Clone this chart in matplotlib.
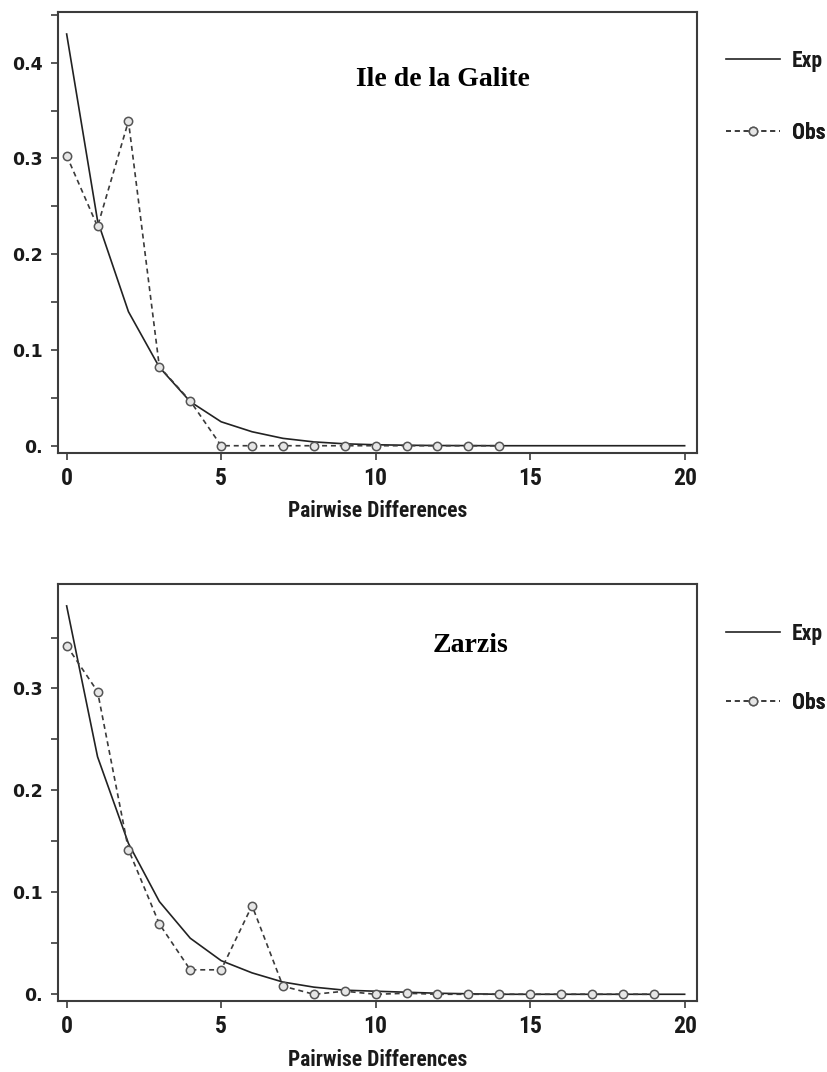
import matplotlib
matplotlib.use("Agg")
import matplotlib.pyplot as plt
from matplotlib import font_manager as fm
from matplotlib.ticker import FixedLocator, FixedFormatter

# ---------------- data ----------------
x_exp = list(range(0, 21))
galite_exp = [0.430, 0.235, 0.140, 0.082, 0.046, 0.025, 0.0146, 0.0077, 0.004, 0.002,
              0.001, 0.0005, 0.0002, 0.0001, 0, 0, 0, 0, 0, 0, 0]
galite_obs_x = list(range(0, 15))
galite_obs = [0.303, 0.229, 0.339, 0.0825, 0.0467, 0, 0, 0, 0, 0, 0, 0, 0, 0, 0]

zarzis_exp = [0.381, 0.233, 0.148, 0.091, 0.055, 0.033, 0.021, 0.012, 0.007, 0.004,
              0.003, 0.002, 0.001, 0.0005, 0, 0, 0, 0, 0, 0, 0]
zarzis_obs_x = list(range(0, 20))
zarzis_obs = [0.342, 0.297, 0.142, 0.069, 0.024, 0.024, 0.087, 0.008, 0.0, 0.003,
              0.0, 0.001, 0, 0, 0, 0, 0, 0, 0, 0]

x_ticks = [0, 5, 10, 15, 20]
x_ticklabels = ["0", "5", "10", "15", "20"]
galite_yticks = [0.0, 0.1, 0.2, 0.3, 0.4]
galite_yticklabels = ["0.", "0.1", "0.2", "0.3", "0.4"]
galite_yminor = [0.05, 0.15, 0.25, 0.35, 0.45]
zarzis_yticks = [0.0, 0.1, 0.2, 0.3]
zarzis_yticklabels = ["0.", "0.1", "0.2", "0.3"]
zarzis_yminor = [0.05, 0.15, 0.25, 0.35]
titles = ["Ile de la Galite", "Zarzis"]
xlabel = "Pairwise Differences"
legend_labels = ["Exp", "Obs"]


def has_font(name):
    try:
        path = fm.findfont(fm.FontProperties(family=name), fallback_to_default=False)
        return bool(path)
    except Exception:
        return False


NARROW = "DejaVu Sans"
for cand in ["Roboto Condensed", "PT Sans Narrow", "Archivo Narrow",
             "Liberation Sans Narrow", "Arimo"]:
    if has_font(cand):
        NARROW = cand
        break
SERIF = "Liberation Serif"

W, H = 827, 1072
fig = plt.figure(figsize=(W / 100, H / 100), dpi=100)


def px_rect(l, t, r, b):
    return [l / W, 1 - b / H, (r - l) / W, (b - t) / H]


SPINE = "#3c3c3c"
TXT = "#1a1a1a"

panels = [
    dict(rect=px_rect(58, 12, 697, 453), ylim=(-0.0076, 0.453), exp=galite_exp,
         ox=galite_obs_x, oy=galite_obs, yt=galite_yticks, ytl=galite_yticklabels,
         ym=galite_yminor, title=titles[0], tpos=(443, 80), leg=(726, 61, 133),
         labelpad=7),
    dict(rect=px_rect(58, 584, 697, 1001), ylim=(-0.0066, 0.4025), exp=zarzis_exp,
         ox=zarzis_obs_x, oy=zarzis_obs, yt=zarzis_yticks, ytl=zarzis_yticklabels,
         ym=zarzis_yminor, title=titles[1], tpos=(471, 646), leg=(726, 634, 703),
         labelpad=8),
]

obs_style = dict(color="#3a3a3a", lw=1.2, ls=(0, (3, 2.3)), marker="o", ms=6,
                 mfc="#e6e6e6", mec="#555555", mew=1.1)
exp_style = dict(color="#222222", lw=1.2)

for p in panels:
    ax = fig.add_axes(p["rect"])
    ax.plot(x_exp, p["exp"], solid_joinstyle="round", **exp_style)
    ax.plot(p["ox"], p["oy"], **obs_style)
    ax.set_xlim(-0.28, 20.4)
    ax.set_ylim(*p["ylim"])
    for s in ax.spines.values():
        s.set_color(SPINE)
        s.set_linewidth(1.5)
    ax.xaxis.set_major_locator(FixedLocator(x_ticks))
    ax.xaxis.set_major_formatter(FixedFormatter(x_ticklabels))
    ax.yaxis.set_major_locator(FixedLocator(p["yt"]))
    ax.yaxis.set_major_formatter(FixedFormatter(p["ytl"]))
    ax.yaxis.set_minor_locator(FixedLocator(p["ym"]))
    ax.tick_params(axis="both", which="both", direction="out", length=5,
                   width=1.2, color=SPINE)
    ax.tick_params(axis="y", pad=6)
    ax.tick_params(axis="x", pad=5)
    for lab in ax.get_yticklabels():
        lab.set_fontfamily("DejaVu Sans")
        lab.set_fontweight("bold")
        lab.set_fontsize(12.5)
        lab.set_color(TXT)
    for lab in ax.get_xticklabels():
        lab.set_fontfamily(NARROW)
        lab.set_fontweight("bold")
        lab.set_fontsize(17)
        lab.set_color(TXT)
    ax.set_xlabel(xlabel, fontfamily=NARROW, fontweight="bold", fontsize=15.5,
                  color=TXT, labelpad=p["labelpad"])
    fig.text(p["tpos"][0] / W, 1 - p["tpos"][1] / H, p["title"], family=SERIF,
             weight="bold", fontsize=20, ha="center", va="center", color="black")

    # legend entries, one per row
    lx, y_exp, y_obs = p["leg"]
    h_exp, = ax.plot([], [], **exp_style)
    h_obs, = ax.plot([], [], **obs_style)
    for h, lab, yy in [(h_exp, legend_labels[0], y_exp), (h_obs, legend_labels[1], y_obs)]:
        lg = ax.legend([h], [lab], loc="center left",
                       bbox_to_anchor=(lx / W, 1 - yy / H), bbox_transform=fig.transFigure,
                       frameon=False, borderpad=0, borderaxespad=0, handlelength=2.5,
                       handletextpad=0.55, numpoints=1, labelcolor=TXT,
                       prop=fm.FontProperties(family=NARROW, weight="bold", size=15.5))
        ax.add_artist(lg)

fig.savefig("out.png", dpi=100, facecolor="white")
